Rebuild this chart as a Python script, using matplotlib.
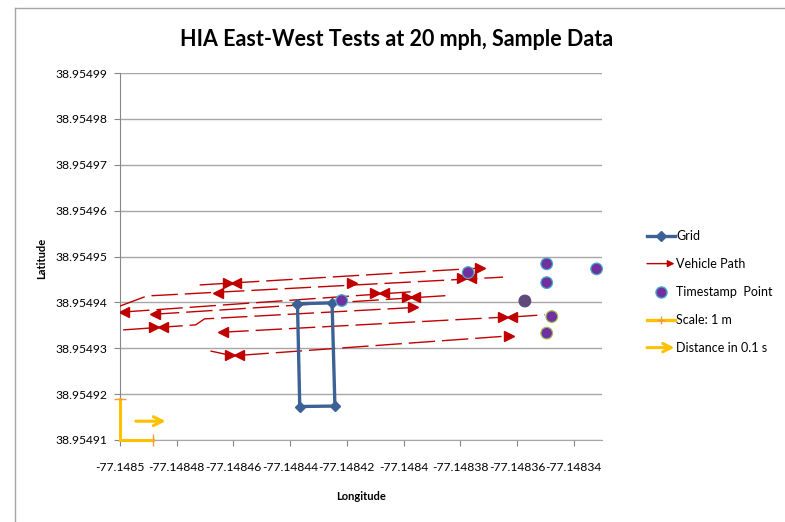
import matplotlib.pyplot as plt
from matplotlib.lines import Line2D
from matplotlib.patches import FancyArrowPatch
from matplotlib.legend_handler import HandlerPatch

plt.rcParams['font.family'] = ['Lato', 'DejaVu Sans']

# axis ticks
lat_ticks = [38.95491, 38.95492, 38.95493, 38.95494, 38.95495,
             38.95496, 38.95497, 38.95498, 38.95499]
lon_ticks = [-77.14850, -77.14848, -77.14846, -77.14844, -77.14842,
             -77.14840, -77.14838, -77.14836, -77.14834]

# surveyed grid rectangle
grid_lon = [-77.1484374, -77.1484252, -77.1484242, -77.1484366, -77.1484374]
grid_lat = [38.9549397, 38.9549399, 38.9549174, 38.9549173, 38.9549397]

# vehicle path passes
path_lons = [
    [-77.1484719, -77.1483723],
    [-77.1485000, -77.1484905, -77.1483649],
    [-77.1484989, -77.1483975],
    [-77.1484884, -77.1483842],
    [-77.1484989, -77.1484733, -77.1484702, -77.1483958],
    [-77.1484639, -77.1483639],
    [-77.1483621, -77.1483502],
    [-77.1484681, -77.1484621],
    [-77.1484568, -77.1483625],
]
path_lats = [
    [38.9549438, 38.9549475],
    [38.9549392, 38.9549414, 38.9549455],
    [38.9549379, 38.9549423],
    [38.9549374, 38.9549415],
    [38.9549340, 38.9549351, 38.9549364, 38.9549389],
    [38.9549335, 38.9549368],
    [38.9549368, 38.9549373],
    [38.9549294, 38.9549286],
    [38.9549285, 38.9549327],
]

# arrow heads along the path (eastbound / westbound)
east_lon = [-77.1483730, -77.1484182, -77.1484618, -77.1483793, -77.1484102, -77.1483989,
            -77.1483965, -77.1484881, -77.1483649, -77.1484611, -77.1483628]
east_lat = [38.9549475, 38.9549442, 38.9549442, 38.9549453, 38.9549420, 38.9549412,
            38.9549389, 38.9549346, 38.9549368, 38.9549285, 38.9549327]
west_lon = [-77.1484590, -77.1484653, -77.1483761, -77.1484986, -77.1484070, -77.1484877,
            -77.1483958, -77.1484849, -77.1484635, -77.1483618, -77.1484579]
west_lat = [38.9549442, 38.9549420, 38.9549453, 38.9549379, 38.9549420, 38.9549374,
            38.9549412, 38.9549346, 38.9549335, 38.9549368, 38.9549285]

# timestamp points
ts_lon = [-77.1484218, -77.1483772, -77.1483572, -77.1483495,
          -77.1483495, -77.1483319, -77.1483477, -77.1483495]
ts_lat = [38.9549404, 38.9549465, 38.9549403, 38.9549484,
          38.9549443, 38.9549473, 38.9549369, 38.9549333]
ts_face = ['#7030A0', '#7030A0', '#604A7B', '#7030A0',
           '#7030A0', '#7030A0', '#7030A0', '#7030A0']
ts_edge = ['#4BACC6', '#4BACC6', '#604A7B', '#4BACC6',
           '#4BACC6', '#4BACC6', '#9BBB59', '#9BBB59']

# 1 m scale and 0.1 s distance arrow
scale_lon = [-77.1485000, -77.1484883]
scale_lat = [38.9549100, 38.9549189]
dist_lon = [-77.1484944, -77.1484839]
dist_lat = 38.9549141

blue = '#3C6295'
red = '#C00000'
gold = '#FFC000'

fig = plt.figure(figsize=(7.85, 5.22), dpi=100)
ax = fig.add_axes([120 / 785, 1 - 440 / 522, 482 / 785, 367 / 522])
ax.set_xlim(-77.1485, -77.14833)
ax.set_ylim(38.95491, 38.95499)

ax.set_xticks(lon_ticks)
ax.set_xticklabels([f"{v:.5f}".rstrip('0') for v in lon_ticks])
ax.set_yticks(lat_ticks)
ax.set_yticklabels([f"{v:.5f}" for v in lat_ticks])
ax.tick_params(axis='both', direction='out', length=4, color='#868686', labelsize=8.7)
ax.tick_params(axis='x', pad=12)
ax.tick_params(axis='y', pad=5)
ax.yaxis.grid(True, color='#A6A6A6', lw=1)
ax.set_axisbelow(True)
for s in ['top', 'right']:
    ax.spines[s].set_visible(False)
ax.spines['left'].set_color('#868686')
ax.spines['bottom'].set_color('#A6A6A6')

for lo, la in zip(path_lons, path_lats):
    ax.plot(lo, la, color=red, lw=1.0, ls=(0, (19, 5)), zorder=3)
ax.plot(east_lon, east_lat, ls='none', marker='>', ms=7, color=red, zorder=4)
ax.plot(west_lon, west_lat, ls='none', marker='<', ms=7, color=red, zorder=4)

ax.plot(grid_lon, grid_lat, color=blue, lw=2.4, marker='D', ms=5.5, zorder=5)

ax.scatter(ts_lon, ts_lat, s=70, c=ts_face, edgecolors=ts_edge, linewidths=0.9,
           zorder=6, clip_on=False)

# scale bar with caps
ax.plot([scale_lon[0], scale_lon[0]], scale_lat, color=gold, lw=2.2, zorder=6, clip_on=False)
ax.plot(scale_lon, [scale_lat[0], scale_lat[0]], color=gold, lw=2.2, zorder=6, clip_on=False)
ax.plot(scale_lon[0], scale_lat[1], marker='_', ms=8, mew=1, color='#F79646', zorder=7, clip_on=False)
ax.plot(scale_lon[1], scale_lat[0], marker='|', ms=8, mew=1, color='#F79646', zorder=7, clip_on=False)

ax.annotate('', xy=(dist_lon[1], dist_lat), xytext=(dist_lon[0], dist_lat),
            arrowprops=dict(arrowstyle='->', color=gold, lw=2.2, mutation_scale=16,
                            shrinkA=0, shrinkB=0))

fig.text(397 / 785, 1 - 40 / 522, 'HIA East-West Tests at 20 mph, Sample Data',
         ha='center', va='center', fontsize=15.5, fontweight='bold')
fig.text(42 / 785, 1 - 258 / 522, 'Latitude', rotation=90, ha='center', va='center',
         fontsize=8, fontweight='bold')
fig.text(361 / 785, 1 - 496 / 522, 'Longitude', ha='center', va='center',
         fontsize=8, fontweight='bold')

# chart border
fig.add_artist(Line2D([15 / 785, 1], [1 - 8 / 522] * 2, color='#A6A6A6', lw=1))
fig.add_artist(Line2D([15 / 785] * 2, [0, 1 - 8 / 522], color='#A6A6A6', lw=1))


def arrow_handle(legend, orig_handle, xdescent, ydescent, width, height, fontsize):
    return FancyArrowPatch((-xdescent, height / 2 - ydescent),
                           (width - xdescent, height / 2 - ydescent),
                           arrowstyle=orig_handle.get_arrowstyle(),
                           mutation_scale=orig_handle.get_mutation_scale(),
                           shrinkA=0, shrinkB=0)


h_grid = Line2D([], [], color=blue, lw=2.4, marker='D', ms=5.5)
h_path = FancyArrowPatch((0, 0), (1, 0), arrowstyle='-|>', color=red, lw=1, mutation_scale=10)
h_ts = Line2D([], [], ls='none', marker='o', ms=8, mfc='#7030A0', mec='#4BACC6')
h_scale = Line2D([], [], color=gold, lw=2.4, marker='+', ms=6, mec='#F79646', mew=1)
h_dist = FancyArrowPatch((0, 0), (1, 0), arrowstyle='->', color=gold, lw=2.2, mutation_scale=15)

ax.legend([h_grid, h_path, h_ts, h_scale, h_dist],
          ['Grid', 'Vehicle Path', 'Timestamp  Point', 'Scale: 1 m', 'Distance in 0.1 s'],
          handler_map={FancyArrowPatch: HandlerPatch(patch_func=arrow_handle)},
          loc='upper left', bbox_to_anchor=(647 / 785, 1 - 230 / 522),
          bbox_transform=fig.transFigure, frameon=False, fontsize=9,
          labelspacing=1.28, handlelength=2.2, handletextpad=0.15,
          borderaxespad=0, borderpad=0)

fig.savefig('out.png', dpi=100)
